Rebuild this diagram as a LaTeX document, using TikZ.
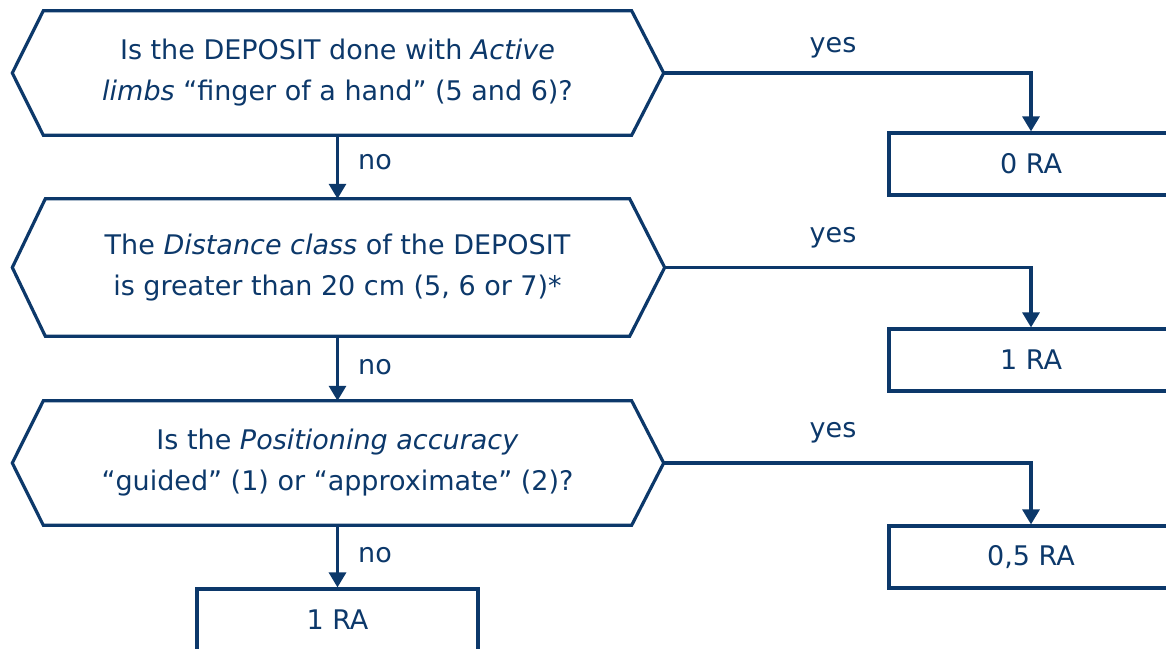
\documentclass[tikz,border=0pt]{standalone}
\usepackage{fontspec}
\setmainfont{DejaVu Sans}
\usetikzlibrary{arrows.meta,calc}
\definecolor{navy}{RGB}{12,56,106}
\begin{document}
\begin{tikzpicture}[x=1pt,y=-1pt,
  every node/.style={text=navy, font=\fontsize{27}{41}\selectfont},
  qnode/.style={minimum width=588pt, minimum height=124pt, align=center, inner sep=0pt},
  hexline/.style={draw=navy, line width=3.2pt, line join=miter},
  conn/.style={draw=navy, line width=3.2pt},
  arr/.style={conn, -{Triangle[width=17pt,length=15pt]}},
  rbox/.style={draw=navy, line width=3.2pt, minimum width=284pt, minimum height=62pt, inner sep=0pt},
  lbl/.style={inner sep=0pt}]
\useasboundingbox (0,0) rectangle (1166,648);
\clip (0,0) rectangle (1166,648);

% decision nodes
\node[qnode] (q1) at (337.5,73) {Is the DEPOSIT done with \textit{Active}\\\textit{limbs} “finger of a hand” (5 and 6)?};
\node[qnode, minimum width=584pt, minimum height=137pt] (q2) at (337.5,267.5) {The \textit{Distance class} of the DEPOSIT\\is greater than 20 cm (5, 6 or 7)*};
\node[qnode] (q3) at (337.5,463) {Is the \textit{Positioning accuracy}\\“guided” (1) or “approximate” (2)?};

\coordinate (q1l) at ($(q1.west)-(31,0)$);
\coordinate (q1r) at ($(q1.east)+(32,0)$);
\coordinate (q2l) at ($(q2.west)-(33,0)$);
\coordinate (q2r) at ($(q2.east)+(35,0)$);
\coordinate (q3l) at ($(q3.west)-(31,0)$);
\coordinate (q3r) at ($(q3.east)+(32,0)$);

\draw[hexline] (q1.north west) -- (q1.north east) -- (q1r) -- (q1.south east) -- (q1.south west) -- (q1l) -- cycle;
\draw[hexline] (q2.north west) -- (q2.north east) -- (q2r) -- (q2.south east) -- (q2.south west) -- (q2l) -- cycle;
\draw[hexline] (q3.north west) -- (q3.north east) -- (q3r) -- (q3.south east) -- (q3.south west) -- (q3l) -- cycle;

% result boxes
\node[rbox] (r1) at (1031,164) {0 RA};
\node[rbox] (r2) at (1031,360) {1 RA};
\node[rbox] (r3) at (1031,557) {0,5 RA};
\node[rbox, minimum width=281pt] (r4) at (337.5,620) {1 RA};

% connectors
\draw[arr] (q1r) -| (r1.north);
\draw[arr] (q2r) -| (r2.north);
\draw[arr] (q3r) -| (r3.north);
\draw[arr] (q1.south) -- (q2.north);
\draw[arr] (q2.south) -- (q3.north);
\draw[arr] (q3.south) -- (r4.north);

% labels
\node[lbl, anchor=base] (y1) at (833,52) {yes};
\node[lbl, anchor=base] (y2) at (833,242) {yes};
\node[lbl, anchor=base] (y3) at (833,437) {yes};
\node[lbl] (n1) at (375,162) {no};
\node[lbl] (n2) at (375,367) {no};
\node[lbl] (n3) at (375,555) {no};
\end{tikzpicture}
\end{document}
